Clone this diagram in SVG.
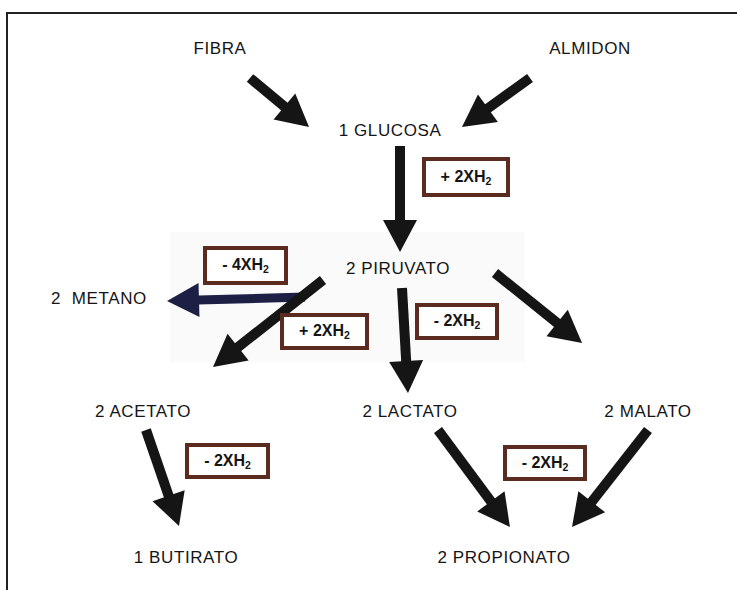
<svg xmlns="http://www.w3.org/2000/svg" width="737" height="590" viewBox="0 0 737 590">
  <style>
    .lbl { font-family: "Liberation Sans", Arial, sans-serif; font-size: 17px; fill: #151515; text-anchor: middle; letter-spacing: 0.6px; }
    .box rect { fill: #ffffff; stroke: #5b2b1f; stroke-width: 4; }
    .box text { font-family: "Liberation Sans", Arial, sans-serif; font-size: 16px; font-weight: bold; fill: #151515; text-anchor: middle; }
    .sub { font-size: 10.5px; }
    .arr { stroke: #151515; stroke-width: 10; fill: none; marker-end: url(#head); }
    .arr-navy { stroke: #1c2045; stroke-width: 9; fill: none; marker-end: url(#headNavy); }
  </style>
  <defs>
    <marker id="head" markerUnits="userSpaceOnUse" markerWidth="40" markerHeight="40" refX="20" refY="17" orient="auto" overflow="visible">
      <path d="M0,0 L32,17 L0,34 z" fill="#151515"/>
    </marker>
    <marker id="headNavy" markerUnits="userSpaceOnUse" markerWidth="40" markerHeight="40" refX="20" refY="17" orient="auto" overflow="visible">
      <path d="M0,0 L32,17 L0,34 z" fill="#1c2045"/>
    </marker>
  </defs>

  <rect width="737" height="590" fill="#ffffff"/>
  <rect x="170" y="232" width="355" height="130" fill="#fafafa"/>
  <path d="M7,590 V13 H737" fill="none" stroke="#222" stroke-width="2"/>

  <g id="connectors">
    <line class="arr" x1="250" y1="78" x2="299.8" y2="119.3"/>
    <line class="arr" x1="530" y1="78" x2="471.7" y2="120"/>
    <line class="arr" x1="400" y1="146" x2="400" y2="240"/>
    <line class="arr-navy" x1="305" y1="297" x2="179" y2="300.6"/>
    <line class="arr" x1="323" y1="280" x2="222.4" y2="359.5"/>
    <line class="arr" x1="402" y1="288" x2="407.3" y2="381"/>
    <line class="arr" x1="495" y1="273" x2="572.7" y2="335.5"/>
    <line class="arr" x1="146" y1="430" x2="175.1" y2="514.6"/>
    <line class="arr" x1="438" y1="430" x2="502.8" y2="517.4"/>
    <line class="arr" x1="648" y1="430" x2="579.4" y2="517.6"/>
  </g>

  <g id="fibra"><text class="lbl" x="220" y="54">FIBRA</text></g>
  <g id="almidon"><text class="lbl" x="590" y="54">ALMIDON</text></g>
  <g id="glucosa"><text class="lbl" x="390" y="136">1 GLUCOSA</text></g>
  <g id="piruvato"><text class="lbl" x="398" y="274">2 PIRUVATO</text></g>
  <g id="metano"><text class="lbl" x="99" y="304" xml:space="preserve">2  METANO</text></g>
  <g id="acetato"><text class="lbl" x="143" y="417">2 ACETATO</text></g>
  <g id="lactato"><text class="lbl" x="410" y="417">2 LACTATO</text></g>
  <g id="malato"><text class="lbl" x="648" y="417">2 MALATO</text></g>
  <g id="butirato"><text class="lbl" x="186" y="563">1 BUTIRATO</text></g>
  <g id="propionato"><text class="lbl" x="504" y="563">2 PROPIONATO</text></g>

  <g id="h2-glucosa" class="box">
    <rect x="424" y="159" width="84" height="36"/>
    <text x="466" y="182">+ 2XH<tspan class="sub" dy="3">2</tspan></text>
  </g>
  <g id="h2-metano" class="box">
    <rect x="205" y="248" width="81" height="35"/>
    <text x="245.5" y="270">- 4XH<tspan class="sub" dy="3">2</tspan></text>
  </g>
  <g id="h2-acetato" class="box">
    <rect x="282" y="315" width="85" height="33"/>
    <text x="324.5" y="336">+ 2XH<tspan class="sub" dy="3">2</tspan></text>
  </g>
  <g id="h2-lactato" class="box">
    <rect x="417" y="305" width="80" height="33"/>
    <text x="457" y="326">- 2XH<tspan class="sub" dy="3">2</tspan></text>
  </g>
  <g id="h2-butirato" class="box">
    <rect x="187" y="445" width="81" height="32"/>
    <text x="227.5" y="466">- 2XH<tspan class="sub" dy="3">2</tspan></text>
  </g>
  <g id="h2-propionato" class="box">
    <rect x="505" y="447" width="80" height="32"/>
    <text x="545" y="468">- 2XH<tspan class="sub" dy="3">2</tspan></text>
  </g>
</svg>
